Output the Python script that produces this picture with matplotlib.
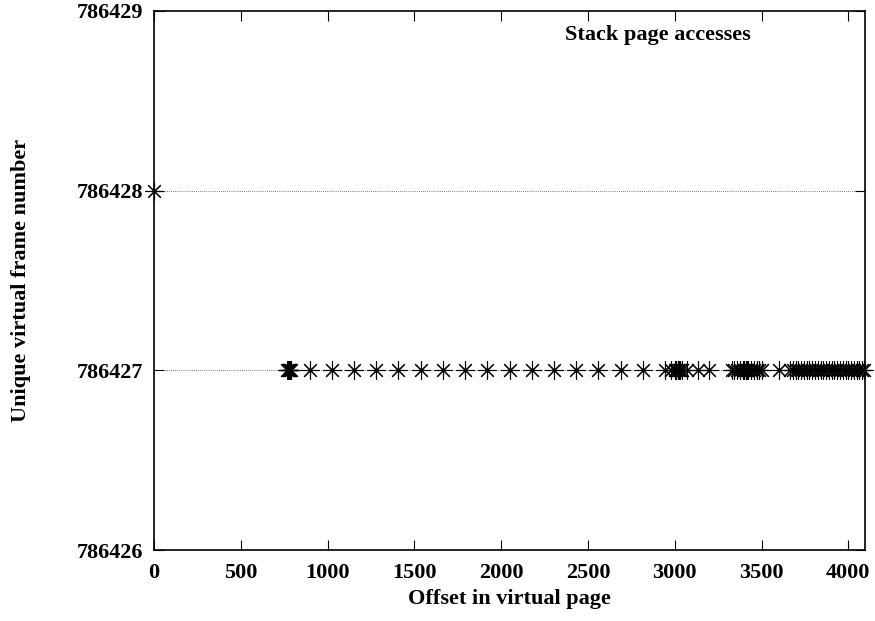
import numpy as np
import matplotlib.pyplot as plt

plt.rcParams['font.family'] = ['Liberation Serif', 'DejaVu Serif']
plt.rcParams['font.weight'] = 'bold'

# page offsets touched in each virtual frame
frame_a = 786428
offsets_a = [0]

frame_b = 786427
offsets_b = [768, 772, 776, 780, 784, 788, 896, 1024, 1152, 1280, 1408, 1536, 1664,
             1792, 1920, 2048, 2176, 2304, 2432, 2560, 2688, 2816, 2944,
             2976, 3000, 3008, 3016, 3024, 3032, 3040, 3072, 3136, 3200,
             3328, 3344, 3360, 3376, 3392, 3400, 3408, 3416, 3424, 3440, 3456,
             3472, 3488, 3504, 3600,
             3664, 3680, 3696, 3712, 3728, 3744, 3760, 3776, 3792, 3808, 3824,
             3840, 3856, 3872, 3888, 3904, 3920, 3936, 3952, 3968, 3984, 4000,
             4016, 4032, 4048, 4064, 4080, 4092]

x_ticks = [0, 500, 1000, 1500, 2000, 2500, 3000, 3500, 4000]
y_ticks = [786426, 786427, 786428, 786429]

fig = plt.figure(figsize=(8.75, 6.21), dpi=100)
ax = fig.add_axes([0.176, 0.1143, 0.8126, 0.868])

xs = offsets_a + offsets_b
ys = [frame_a] * len(offsets_a) + [frame_b] * len(offsets_b)
ax.plot(xs, ys, linestyle='none', marker=(8, 2, 0), markersize=13,
        markeredgewidth=0.8, color='black', clip_on=False, zorder=3)

ax.set_xlim(0, 4096)
ax.set_ylim(786426, 786429)
ax.set_xticks(x_ticks)
ax.set_yticks(y_ticks)
ax.ticklabel_format(useOffset=False, style='plain')
ax.tick_params(direction='in', top=True, right=True, length=7, width=0.8,
               labelsize=16)
ax.tick_params(axis='x', pad=9)
ax.tick_params(axis='y', pad=8)
for lab in ax.get_xticklabels() + ax.get_yticklabels():
    lab.set_fontweight('bold')

for yv in [786427, 786428]:
    ax.axhline(yv, color='black', linestyle=(0, (1, 2)), linewidth=0.5, zorder=1)

for sp in ax.spines.values():
    sp.set_linewidth(1.2)

ax.set_xlabel('Offset in virtual page', fontsize=16, fontweight='bold', labelpad=5)
ax.set_ylabel('Unique virtual frame number', fontsize=16, fontweight='bold', labelpad=33)
ax.text(0.709, 0.955, 'Stack page accesses', transform=ax.transAxes,
        fontsize=16, fontweight='bold', ha='center', va='center')

fig.savefig('out.png', dpi=100)
